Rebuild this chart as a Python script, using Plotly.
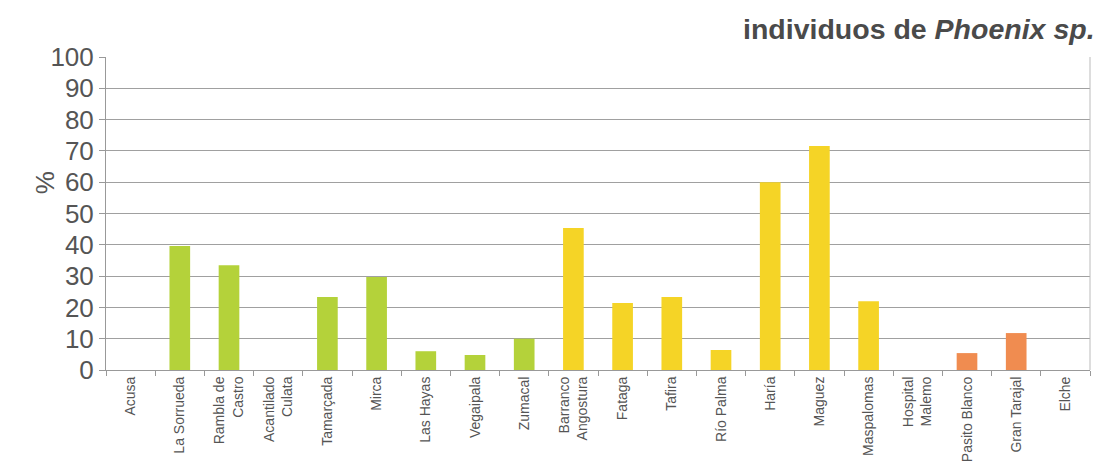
import plotly.graph_objects as go

categories = ["Acusa", "La Sorrueda", "Rambla de<br>Castro", "Acantilado<br>Culata", "Tamarçada",
              "Mirca", "Las Hayas", "Vegaipala", "Zumacal", "Barranco<br>Angostura",
              "Fataga", "Tafira", "Río Palma", "Haría", "Maguez",
              "Maspalomas", "Hospital<br>Malemo", "Pasito Blanco", "Gran Tarajal", "Elche"]
values = [0, 39.6, 33.5, 0, 23.3, 29.7, 6.0, 4.8, 10.0, 45.4,
          21.4, 23.3, 6.4, 60.0, 71.6, 22.0, 0, 5.4, 11.8, 0]
groups = ["g"] * 9 + ["y"] * 8 + ["o"] * 3
y_ticks = [0, 10, 20, 30, 40, 50, 60, 70, 80, 90, 100]

palette = {"g": "#b4d23a", "y": "#f5d426", "o": "#f08c50"}
colors = [palette[g] for g in groups]

fig = go.Figure()
fig.add_trace(go.Bar(x=categories, y=values, marker=dict(color=colors, line=dict(width=0)),
                     width=0.42))

fig.update_layout(
    width=1109, height=468,
    margin=dict(l=98, r=27, t=49, b=106, autoexpand=False),
    paper_bgcolor="white", plot_bgcolor="white",
    font=dict(family="Liberation Sans, Arial, sans-serif", color="#555555"),
    showlegend=False,
    bargap=0.58,
)
fig.update_xaxes(
    automargin=False,
    tickangle=-90, tickfont=dict(size=14, color="#555555"),
    ticks="outside", tickson="boundaries", ticklen=5, tickcolor="#999999",
    showline=True, linecolor="#999999", linewidth=1, mirror=False,
    showgrid=False,
)
fig.update_yaxes(
    automargin=False,
    range=[0, 100], tickvals=y_ticks, tickfont=dict(size=26, color="#555555"),
    ticks="outside", ticklen=6, tickcolor="#999999",
    showline=True, linecolor="#999999", linewidth=1,
    gridcolor="#a0a0a0", gridwidth=1,
)
# right border of plot box
fig.add_shape(type="line", xref="paper", yref="paper", x0=1, x1=1, y0=0, y1=1,
              line=dict(color="#bbbbbb", width=1))
fig.add_annotation(text="%", xref="paper", yref="paper", x=-0.062, y=0.6,
                   textangle=-90, showarrow=False, xanchor="center", yanchor="middle",
                   font=dict(size=26, color="#555555"))
fig.add_annotation(text="<b>individuos de <i>Phoenix sp.</i></b>", xref="paper", yref="paper",
                   x=1.007, y=1.0, xanchor="right", yanchor="bottom", yshift=10, showarrow=False,
                   font=dict(size=28.5, color="#4a4a4a"))

fig.write_html("out.html")
